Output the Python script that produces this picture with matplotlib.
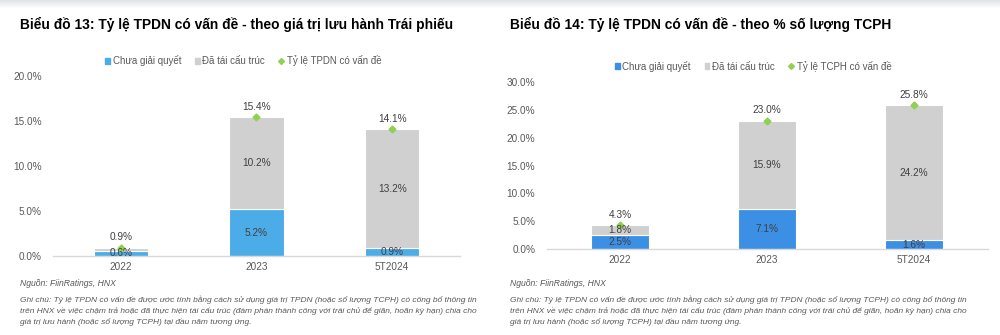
import matplotlib.pyplot as plt
import matplotlib.lines as mlines
import matplotlib.patches as mpatches
import numpy as np

plt.rcParams["font.family"] = ["Liberation Sans", "DejaVu Sans"]

# ---- data ----
categories = ["2022", "2023", "5T2024"]

left_unresolved = [0.6, 5.2, 0.9]
left_restructured = [0.3, 10.2, 13.2]
left_total = [0.9, 15.4, 14.1]

right_unresolved = [2.5, 7.1, 1.6]
right_restructured = [1.8, 15.9, 24.2]
right_total = [4.3, 23.0, 25.8]

left_ticks = [0, 5, 10, 15, 20]
right_ticks = [0, 5, 10, 15, 20, 25, 30]

GRAY = "#D0D0D0"
GREEN = "#92D050"
TXT = "#595959"
LBL = "#404040"

NOTE = ("Ghi chú: Tỷ lệ TPDN có vấn đề được ước tính bằng cách sử dụng giá trị TPDN (hoặc số lượng TCPH) có công bố thông tin\n"
        "trên HNX về việc chậm trả hoặc đã thực hiện tái cấu trúc (đàm phán thành công với trái chủ để giãn, hoãn kỳ hạn) chia cho\n"
        "giá trị lưu hành (hoặc số lượng TCPH) tại đầu năm tương ứng.")


def draw_panel(fig, rect, blue, unresolved, restructured, total, ticks, hide_small,
               total_name, legend_xy):
    ax = fig.add_axes(rect)
    x = np.arange(len(categories))
    ax.bar(x, unresolved, width=0.4, color=blue, edgecolor="white", linewidth=0.8, zorder=2)
    ax.bar(x, restructured, width=0.4, bottom=unresolved, color=GRAY,
           edgecolor="white", linewidth=0.8, zorder=2)
    ax.plot(x, total, linestyle="none", marker="D", markersize=3.5, color=GREEN, zorder=3)

    for i in range(len(categories)):
        ax.text(x[i], unresolved[i] / 2, f"{unresolved[i]:.1f}%", ha="center", va="center",
                fontsize=7.3, color=LBL, zorder=4)
        if not (hide_small and restructured[i] < 0.5):
            ax.text(x[i], unresolved[i] + restructured[i] / 2, f"{restructured[i]:.1f}%",
                    ha="center", va="center", fontsize=7.3, color=LBL, zorder=4)
        ax.annotate(f"{total[i]:.1f}%", (x[i], total[i]), xytext=(0, 4),
                    textcoords="offset points", ha="center", va="bottom",
                    fontsize=7.3, color=LBL)

    ax.set_xlim(-0.5, 2.5)
    ax.set_ylim(0, ticks[-1])
    ax.set_yticks(ticks)
    ax.set_yticklabels([f"{t:.1f}%" for t in ticks])
    ax.set_xticks(x)
    ax.set_xticklabels(categories)
    ax.tick_params(length=0, labelsize=7.2, colors=TXT, pad=4)
    ax.tick_params(axis="y", pad=8)
    for s in ["top", "right", "left"]:
        ax.spines[s].set_visible(False)
    ax.spines["bottom"].set_color("#D9D9D9")
    ax.spines["bottom"].set_linewidth(1)

    handles = [
        mpatches.Patch(color=blue, label="Chưa giải quyết"),
        mpatches.Patch(color=GRAY, label="Đã tái cấu trúc"),
        mlines.Line2D([], [], linestyle="none", marker="D", markersize=3,
                      color=GREEN, label=total_name),
    ]
    fig.legend(handles=handles, loc="center", bbox_to_anchor=legend_xy, ncol=3,
               frameon=False, fontsize=7, handlelength=0.5, handleheight=0.5,
               handletextpad=0.3, columnspacing=1.4, labelcolor=TXT)
    return ax


fig = plt.figure(figsize=(10, 3.35), dpi=100)

# faint shadow band at top of page
for i in range(8):
    fig.patches.append(mpatches.Rectangle((0, 1 - (i + 1) / 335), 1, 1 / 335,
                                          transform=fig.transFigure,
                                          color="#C8CCD4", alpha=0.55 * (1 - i / 8),
                                          linewidth=0))

fig.text(0.02, 1 - 24 / 335, "Biểu đồ 13: Tỷ lệ TPDN có vấn đề - theo giá trị lưu hành Trái phiếu",
         fontsize=9.9, fontweight="bold", va="center", color="black")
fig.text(0.51, 1 - 24 / 335, "Biểu đồ 14: Tỷ lệ TPDN có vấn đề - theo % số lượng TCPH",
         fontsize=9.9, fontweight="bold", va="center", color="black")

draw_panel(fig, [0.053, 1 - 256 / 335, 0.407, 180 / 335], "#4BACE8",
           left_unresolved, left_restructured, left_total, left_ticks, True,
           "Tỷ lệ TPDN có vấn đề", (0.243, 1 - 61 / 335))
draw_panel(fig, [0.5465, 1 - 249 / 335, 0.441, 167 / 335], "#3B8FE5",
           right_unresolved, right_restructured, right_total, right_ticks, False,
           "Tỷ lệ TCPH có vấn đề", (0.753, 1 - 66 / 335))

for x0 in [0.02, 0.51]:
    fig.text(x0, 1 - 284 / 335, "Nguồn: FiinRatings, HNX", fontsize=6.2, style="italic",
             color=TXT, va="center")
    fig.text(x0, 1 - 295 / 335, NOTE, fontsize=6.0, style="italic", color=TXT,
             va="top", linespacing=1.55)

fig.savefig("out.png", dpi=100)
